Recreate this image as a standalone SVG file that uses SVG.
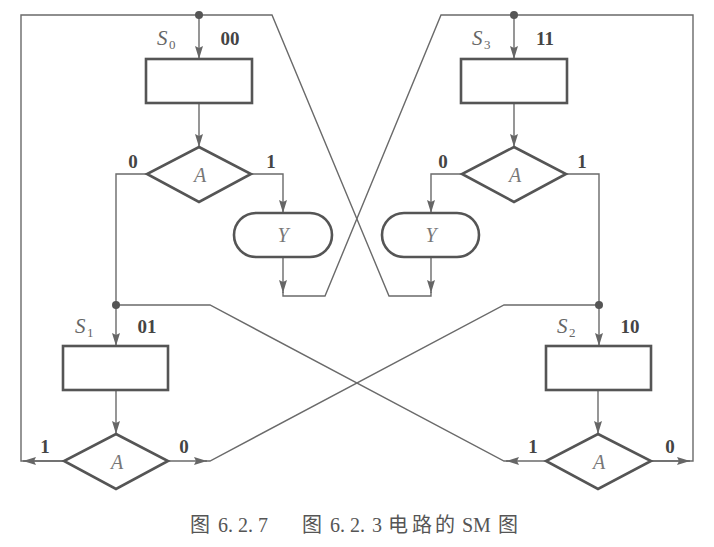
<svg xmlns="http://www.w3.org/2000/svg" width="714" height="547" viewBox="0 0 714 547">
<style>
.bg{fill:#ffffff}
.box{fill:#ffffff;stroke:#555;stroke-width:2.6}
.ln{fill:none;stroke:#6a6a6a;stroke-width:1.4}
.arr{fill:none;stroke:#6a6a6a;stroke-width:1.4;marker-end:url(#ah)}
.dot{fill:#555}
.lbl{font-family:"Liberation Serif",serif;font-weight:bold;font-size:19px;fill:#444;text-anchor:middle}
.st{font-family:"Liberation Serif",serif;font-style:italic;font-size:21px;fill:#666}
.sub{font-family:"Liberation Serif",serif;font-size:13px;fill:#666}
.var{font-family:"Liberation Serif",serif;font-style:italic;font-size:20px;fill:#777;text-anchor:middle}
.cap{font-family:"Liberation Serif","Noto Sans CJK SC",serif;font-size:20px;fill:#555}
</style>
<defs>
<marker id="ah" markerUnits="userSpaceOnUse" markerWidth="14" markerHeight="10" refX="13" refY="4" orient="auto">
<path d="M0,0 L13,4 L0,8 L2,4 z" fill="#666"/>
</marker>
</defs>
<rect class="bg" x="0" y="0" width="714" height="547"/>

<g id="connectors">
<path class="arr" d="M199,15 V59"/>
<path class="arr" d="M199,103 V147"/>
<path class="ln" d="M147,174 H116 V305"/>
<path class="arr" d="M251,174 H283 V213"/>
<path class="arr" d="M283,257 V293"/>
<path class="ln" d="M283,292 V296 H325 L441,15 H693 V461 H650"/>
<path class="arr" d="M514,15 V59"/>
<path class="arr" d="M514,103 V147"/>
<path class="arr" d="M461,174 H431 V213"/>
<path class="arr" d="M431,257 V293"/>
<path class="ln" d="M431,292 V296 H389 L272,15 H21 V461 H63"/>
<path class="ln" d="M566,174 H599 V305"/>
<path class="arr" d="M116,305 V346"/>
<path class="arr" d="M116,390 V434"/>
<path class="arr" d="M63,461 H23"/>
<path class="arr" d="M168,461 H207"/>
<path class="ln" d="M205,461 H210 L504,305 H599"/>
<path class="arr" d="M599,305 V346"/>
<path class="arr" d="M598,390 V434"/>
<path class="arr" d="M547,461 H506"/>
<path class="ln" d="M508,461 H504 L210,305 H116"/>
<path class="arr" d="M651,461 H690"/>
<circle class="dot" cx="199" cy="15" r="4"/>
<circle class="dot" cx="514" cy="15" r="4"/>
<circle class="dot" cx="116" cy="305" r="4"/>
<circle class="dot" cx="599" cy="305" r="4"/>
</g>

<g id="S0">
<rect class="box" x="146" y="59" width="106" height="44"/>
<text class="st" x="157" y="45">S</text><text class="sub" x="169" y="49">0</text>
<text class="lbl" x="230" y="45">00</text>
</g>
<g id="D0">
<polygon class="box" points="199,147 251,174 199,202 147,174"/>
<text class="var" x="200" y="182">A</text>
<text class="lbl" x="133" y="168">0</text>
<text class="lbl" x="271" y="168">1</text>
</g>
<g id="Y0">
<rect class="box" x="234" y="213" width="98" height="44" rx="22" ry="22"/>
<text class="var" x="283" y="242">Y</text>
</g>

<g id="S3">
<rect class="box" x="461" y="59" width="106" height="44"/>
<text class="st" x="472" y="45">S</text><text class="sub" x="484" y="49">3</text>
<text class="lbl" x="545" y="45">11</text>
</g>
<g id="D3">
<polygon class="box" points="514,147 566,174 514,202 462,174"/>
<text class="var" x="515" y="182">A</text>
<text class="lbl" x="443" y="168">0</text>
<text class="lbl" x="582" y="168">1</text>
</g>
<g id="Y3">
<rect class="box" x="382" y="213" width="97" height="44" rx="22" ry="22"/>
<text class="var" x="431" y="242">Y</text>
</g>

<g id="S1">
<rect class="box" x="63" y="346" width="105" height="44"/>
<text class="st" x="75" y="333">S</text><text class="sub" x="87" y="337">1</text>
<text class="lbl" x="147" y="333">01</text>
</g>
<g id="D1">
<polygon class="box" points="116,434 168,461 116,489 64,461"/>
<text class="var" x="117" y="469">A</text>
<text class="lbl" x="45" y="453">1</text>
<text class="lbl" x="184" y="453">0</text>
</g>

<g id="S2">
<rect class="box" x="546" y="346" width="105" height="44"/>
<text class="st" x="557" y="333">S</text><text class="sub" x="569" y="337">2</text>
<text class="lbl" x="630" y="333">10</text>
</g>
<g id="D2">
<polygon class="box" points="598,434 651,461 598,489 546,461"/>
<text class="var" x="599" y="469">A</text>
<text class="lbl" x="533" y="453">1</text>
<text class="lbl" x="670" y="453">0</text>
</g>

<g id="caption">
<text class="cap" y="532"><tspan x="190">图</tspan><tspan x="218">6.</tspan><tspan x="238">2.</tspan><tspan x="258">7</tspan></text>
<text class="cap" y="532"><tspan x="302">图</tspan><tspan x="330">6.</tspan><tspan x="350">2.</tspan><tspan x="372">3</tspan><tspan x="388">电</tspan><tspan x="412">路</tspan><tspan x="435">的</tspan><tspan x="462">SM</tspan><tspan x="498">图</tspan></text>
</g>
</svg>
